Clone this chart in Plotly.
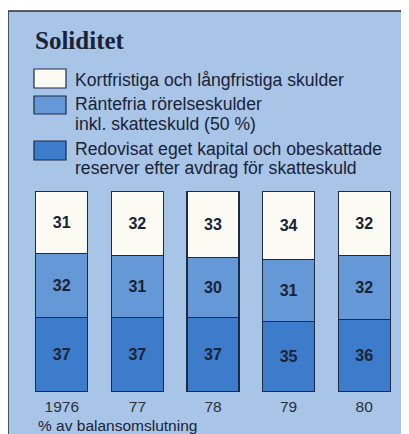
import plotly.graph_objects as go

years = ["1976", "77", "78", "79", "80"]
kort = [31, 32, 33, 34, 32]
rante = [32, 31, 30, 31, 32]
eget = [37, 37, 37, 35, 36]

legend_lines = [
    "Kortfristiga och långfristiga skulder",
    "Räntefria rörelseskulder",
    "inkl. skatteskuld (50 %)",
    "Redovisat eget kapital och obeskattade",
    "reserver efter avdrag för skatteskuld",
]

# page body has an 8px margin: work in reference pixels, shift by OFF
OFF = 8
W, H = 409 - OFF, 434 - OFF
BAR_L, BAR_R, BAR_T, BAR_B = 24, 402, 191, 392
ML, MR = BAR_L - OFF, W - (BAR_R - OFF)
MT, MB = BAR_T - OFF, H - (BAR_B - OFF)
PW, PH = W - ML - MR, H - MT - MB

def px(x):
    return (x - OFF - ML) / PW

def py(y):
    return (H - MB - (y - OFF)) / PH

PANEL = "#a8c5e8"
WHITE = "#fbfbf4"
MID = "#6498d6"
DARK = "#3c7cca"
EDGE = "#1c2a44"
TXT = "#1a2236"
SANS = "Liberation Sans, Arial, Helvetica"

fig = go.Figure()
for vals, col in [(eget, DARK), (rante, MID), (kort, WHITE)]:
    fig.add_trace(go.Bar(
        x=years, y=vals, marker=dict(color=col, line=dict(color=EDGE, width=1.2)),
        text=[str(v) for v in vals], textposition="inside", insidetextanchor="middle",
        textfont=dict(family=SANS, size=16, color=TXT),
        texttemplate="<b>%{text}</b>", textangle=0, showlegend=False, hoverinfo="skip",
    ))

shapes = [
    dict(type="rect", xref="paper", yref="paper", x0=px(8), x1=px(430), y0=py(460), y1=py(11),
         fillcolor=PANEL, line=dict(color="#2b2f3a", width=1.5), layer="below"),
]
boxes = [(69, 88, WHITE), (96, 114, MID), (141, 160, DARK)]
for y0, y1, col in boxes:
    shapes.append(dict(type="rect", xref="paper", yref="paper", x0=px(34), x1=px(66),
                       y0=py(y1), y1=py(y0), fillcolor=col, line=dict(color=EDGE, width=1.2)))

ann = [
    dict(text="<b>Soliditet</b>", x=px(33), y=py(40), xanchor="left", yanchor="middle",
         font=dict(family="Liberation Serif, Times New Roman", size=25, color=TXT)),
    dict(text="% av balansomslutning", x=px(36), y=py(425), xanchor="left", yanchor="middle",
         font=dict(family=SANS, size=15.5, color=TXT)),
]
for txt, yc in zip(legend_lines, [80, 104, 124, 149, 168]):
    ann.append(dict(text=txt, x=px(73), y=py(yc), xanchor="left", yanchor="middle"))
for a in ann:
    a.update(xref="paper", yref="paper", showarrow=False, align="left")
    a.setdefault("font", dict(family=SANS, size=17.6, color=TXT))

fig.update_layout(
    width=W, height=H, margin=dict(l=ML, r=MR, t=MT, b=MB),
    paper_bgcolor="white", plot_bgcolor="rgba(0,0,0,0)",
    barmode="stack", bargap=0.31,
    shapes=shapes, annotations=ann,
    xaxis=dict(showgrid=False, showline=False, zeroline=False, ticks="",
               ticklabelstandoff=3,
               tickfont=dict(family=SANS, size=15.5, color="#2a2f3a")),
    yaxis=dict(range=[0, 100], visible=False),
)
fig.write_html("out.html")
